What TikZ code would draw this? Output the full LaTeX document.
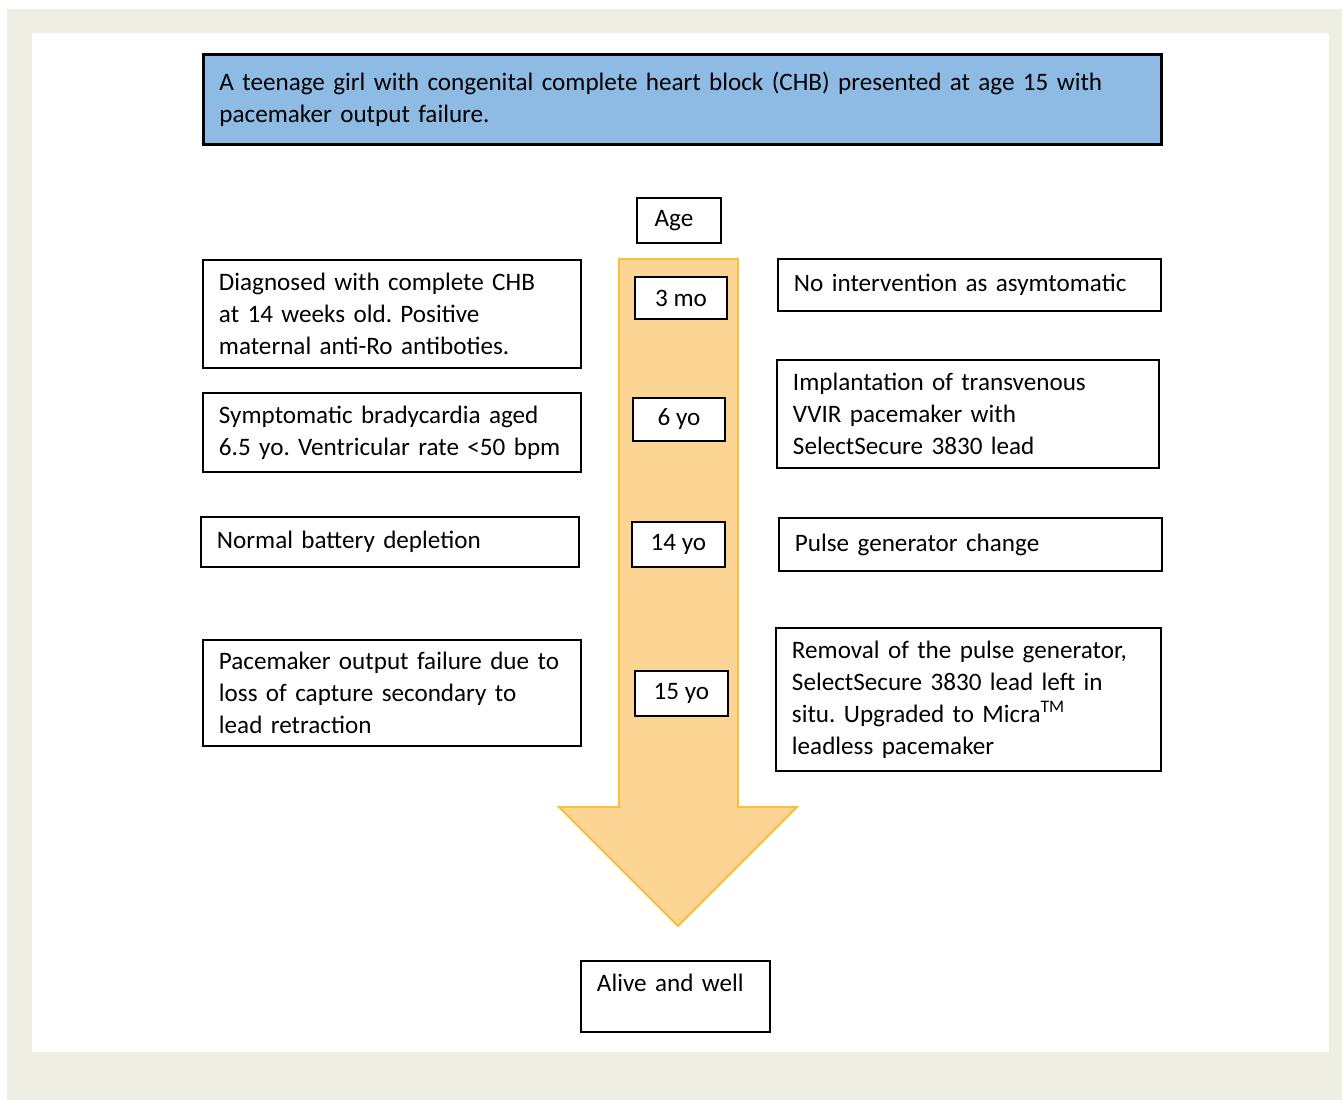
\documentclass[tikz,border=0pt]{standalone}
\usepackage{fontspec}
\setmainfont{Carlito}
\usepackage{tikz}
\usetikzlibrary{positioning}
\definecolor{pagebg}{HTML}{EFEEE3}
\definecolor{introblue}{HTML}{8EBBE4}
\definecolor{arrowfill}{HTML}{FCD493}
\definecolor{arrowline}{HTML}{F9BF35}
\frenchspacing

\begin{document}
\begin{tikzpicture}[box/.style={draw,line width=1.1pt,fill=white,anchor=north west,align=left,inner xsep=0.32cm,inner ysep=0.1cm,font=\fontsize{14.3pt}{18.2pt}\selectfont},agebox/.style={box,align=center,inner xsep=0.1cm}]
\useasboundingbox (0,0) rectangle (26.84,-22);
\fill[pagebg] (0.14,-0.18) rectangle (26.84,-22);
\fill[white] (0.64,-0.66) rectangle (26.58,-21.04);
% timeline arrow
\draw[arrowline,fill=arrowfill,line width=1.1pt,line join=miter] (12.38,-5.18) -- (14.76,-5.18) -- (14.76,-16.14) -- (15.94,-16.14) -- (13.56,-18.52) -- (11.18,-16.14) -- (12.38,-16.14) -- cycle;
\node[box,fill=introblue,line width=1.7pt,text width=18.52cm,minimum height=1.8cm] (intro) at (4.04,-1.06) {A teenage girl with congenital complete heart block (CHB) presented at age 15 with\\pacemaker output failure.};
\node[agebox,minimum width=1.68cm,minimum height=0.9cm] (age) at (12.72,-3.94) {Age\hspace{0.2cm}};
\node[agebox,minimum width=1.84cm,minimum height=0.84cm] (mo3) at (12.68,-5.52) {3 mo};
\node[agebox,minimum width=1.84cm,minimum height=0.86cm] (yo6) at (12.64,-7.94) {6 yo};
\node[agebox,minimum width=1.86cm,minimum height=0.9cm] (yo14) at (12.62,-10.42) {14 yo};
\node[agebox,minimum width=1.86cm,minimum height=0.9cm] (yo15) at (12.68,-13.4) {15 yo};
\node[box,text width=6.92cm,minimum height=2.16cm] (diag) at (4.04,-5.18) {Diagnosed with complete CHB\\at 14 weeks old. Positive\\maternal anti-Ro antiboties.};
\node[box,text width=6.92cm,minimum height=1.58cm] (brady) at (4.04,-7.84) {Symptomatic bradycardia aged\\6.5 yo. Ventricular rate <50 bpm};
\node[box,text width=6.92cm,minimum height=1.0cm] (battery) at (4.0,-10.32) {Normal battery depletion};
\node[box,text width=6.92cm,minimum height=2.12cm] (failure) at (4.04,-12.78) {Pacemaker output failure due to\\loss of capture secondary to\\lead retraction};
\node[box,text width=7.02cm,minimum height=1.04cm] (nointerv) at (15.54,-5.16) {No intervention as asymtomatic};
\node[box,text width=7.0cm,minimum height=2.16cm] (implant) at (15.52,-7.18) {Implantation of transvenous\\VVIR pacemaker with\\SelectSecure 3830 lead};
\node[box,text width=7.02cm,minimum height=1.06cm] (change) at (15.56,-10.34) {Pulse generator change};
\node[box,text width=7.06cm,minimum height=2.86cm] (micra) at (15.5,-12.54) {Removal of the pulse generator,\\SelectSecure 3830 lead left in\\situ. Upgraded to Micra\textsuperscript{TM}\\leadless pacemaker};
\node[box,text width=3.14cm,minimum height=1.42cm,text depth=0.55cm] (alive) at (11.6,-19.2) {Alive and well};
\end{tikzpicture}
\end{document}
